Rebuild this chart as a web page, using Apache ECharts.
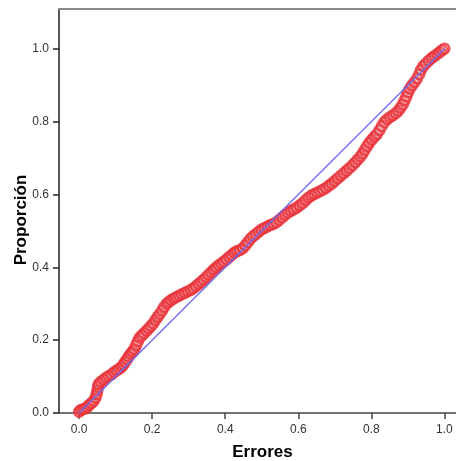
<!DOCTYPE html>
<html>
<head>
<meta charset="utf-8">
<script src="https://cdn.jsdelivr.net/npm/echarts@6/dist/echarts.min.js"></script>
<style>
  html, body { margin: 0; padding: 0; background: #ffffff; }
  #chart { width: 456px; height: 461px; }
</style>
</head>
<body>
<div id="chart"></div>
<script>
// Observed cumulative proportion against expected (P-P plot of Errores)
const errores = [
  0.000, 0.004, 0.010, 0.016, 0.022, 0.028, 0.034, 0.040, 0.045, 0.048, 0.050, 0.052, 0.054,
  0.060, 0.067, 0.074, 0.081, 0.089, 0.096, 0.103, 0.110, 0.116, 0.121, 0.126, 0.131, 0.136,
  0.141, 0.146, 0.151, 0.156, 0.161, 0.166, 0.172, 0.178, 0.185, 0.191, 0.197, 0.203, 0.209,
  0.215, 0.221, 0.227, 0.233, 0.240, 0.246, 0.252, 0.259, 0.266, 0.274, 0.282, 0.290, 0.298,
  0.306, 0.313, 0.320, 0.327, 0.334, 0.341, 0.348, 0.355, 0.362, 0.369, 0.376, 0.383, 0.390,
  0.397, 0.404, 0.411, 0.418, 0.425, 0.432, 0.440, 0.448, 0.455, 0.462, 0.469, 0.476, 0.484,
  0.492, 0.500, 0.508, 0.516, 0.524, 0.532, 0.540, 0.548, 0.556, 0.564, 0.572, 0.580, 0.588,
  0.596, 0.604, 0.612, 0.620, 0.628, 0.636, 0.644, 0.652, 0.660, 0.668, 0.676, 0.684, 0.692,
  0.700, 0.708, 0.716, 0.724, 0.732, 0.740, 0.748, 0.756, 0.763, 0.770, 0.776, 0.782, 0.788,
  0.794, 0.801, 0.808, 0.815, 0.822, 0.829, 0.836, 0.843, 0.851, 0.859, 0.867, 0.874, 0.880,
  0.886, 0.891, 0.896, 0.900, 0.905, 0.911, 0.918, 0.925, 0.931, 0.936, 0.942, 0.949, 0.957,
  0.965, 0.973, 0.981, 0.988, 0.994, 1.000
];
const proporcion = [
  0.003, 0.008, 0.010, 0.012, 0.016, 0.022, 0.027, 0.033, 0.042, 0.052, 0.062, 0.072, 0.080,
  0.086, 0.091, 0.097, 0.101, 0.106, 0.112, 0.117, 0.121, 0.126, 0.132, 0.140, 0.147, 0.155,
  0.162, 0.168, 0.175, 0.186, 0.197, 0.207, 0.213, 0.219, 0.226, 0.232, 0.239, 0.246, 0.255,
  0.264, 0.272, 0.281, 0.291, 0.300, 0.305, 0.310, 0.314, 0.318, 0.322, 0.326, 0.330, 0.334,
  0.338, 0.342, 0.348, 0.354, 0.360, 0.366, 0.373, 0.380, 0.387, 0.394, 0.400, 0.406, 0.411,
  0.416, 0.422, 0.428, 0.434, 0.440, 0.444, 0.447, 0.452, 0.460, 0.469, 0.478, 0.485, 0.491,
  0.498, 0.504, 0.508, 0.512, 0.516, 0.519, 0.523, 0.530, 0.537, 0.544, 0.550, 0.555, 0.559,
  0.564, 0.570, 0.576, 0.584, 0.591, 0.597, 0.601, 0.605, 0.609, 0.613, 0.618, 0.624, 0.630,
  0.637, 0.644, 0.651, 0.658, 0.665, 0.672, 0.680, 0.688, 0.696, 0.704, 0.712, 0.722, 0.732,
  0.741, 0.750, 0.758, 0.765, 0.776, 0.788, 0.799, 0.806, 0.812, 0.817, 0.823, 0.830, 0.838,
  0.847, 0.858, 0.869, 0.880, 0.890, 0.899, 0.908, 0.918, 0.930, 0.942, 0.952, 0.959, 0.967,
  0.974, 0.980, 0.986, 0.991, 0.996, 1.000
];
// Diagonal reference line
const refX = [0, 1];
const refY = [0, 1];
// Tick values shown on both axes
const tickValues = [0, 0.2, 0.4, 0.6, 0.8, 1.0];

const points = errores.map((x, i) => [x, proporcion[i]]);
const diagonal = refX.map((x, i) => [x, refY[i]]);

const labelFont = { fontFamily: 'Liberation Sans, Arial, sans-serif', fontSize: 12, color: '#333333' };
const nameFont = { fontFamily: 'Liberation Sans, Arial, sans-serif', fontSize: 17, fontWeight: 'bold', color: '#000000' };

const chart = echarts.init(document.getElementById('chart'), null, { renderer: 'canvas' });
chart.setOption({
  animation: false,
  backgroundColor: '#ffffff',
  grid: { left: 59, top: 9, right: -10, bottom: 48, containLabel: false, outerBoundsMode: 'none' },
  xAxis: [{
    type: 'value',
    min: -0.055, max: 1.059,
    name: 'Errores',
    nameLocation: 'middle',
    nameGap: 31,
    nameTextStyle: nameFont,
    splitLine: { show: false },
    axisLine: { show: true, onZero: false, lineStyle: { color: '#444444', width: 1.5 } },
    axisTick: { show: true, length: 6, customValues: tickValues, lineStyle: { color: '#444444', width: 1.5 } },
    axisLabel: { ...labelFont, margin: 11, customValues: tickValues, formatter: v => v.toFixed(1) }
  }, {
    type: 'value',
    position: 'top',
    min: -0.055, max: 1.059,
    splitLine: { show: false },
    axisLine: { show: true, onZero: false, lineStyle: { color: '#8a8a8a', width: 2 } },
    axisTick: { show: false },
    axisLabel: { show: false }
  }],
  yAxis: {
    type: 'value',
    min: 0, max: 1.109,
    name: 'Proporción',
    nameLocation: 'middle',
    nameGap: 29,
    nameMoveOverlap: false,
    nameTextStyle: { ...nameFont, padding: [0, 18, 0, 0] },
    splitLine: { show: false },
    axisLine: { show: true, onZero: false, lineStyle: { color: '#222222', width: 1.5 } },
    axisTick: { show: true, length: 6, customValues: tickValues, lineStyle: { color: '#222222', width: 1.5 } },
    axisLabel: { ...labelFont, margin: 10, customValues: tickValues, formatter: v => v.toFixed(1) }
  },
  series: [{
    type: 'scatter',
    data: points,
    symbol: 'circle',
    symbolSize: 10,
    itemStyle: { color: 'rgba(240,120,125,0.4)', borderColor: '#e8323a', borderWidth: 2.4 },
    z: 2
  }, {
    type: 'line',
    data: diagonal,
    symbol: 'none',
    lineStyle: { color: '#6b6bf5', width: 1.3 },
    z: 3
  }]
});
</script>
</body>
</html>
